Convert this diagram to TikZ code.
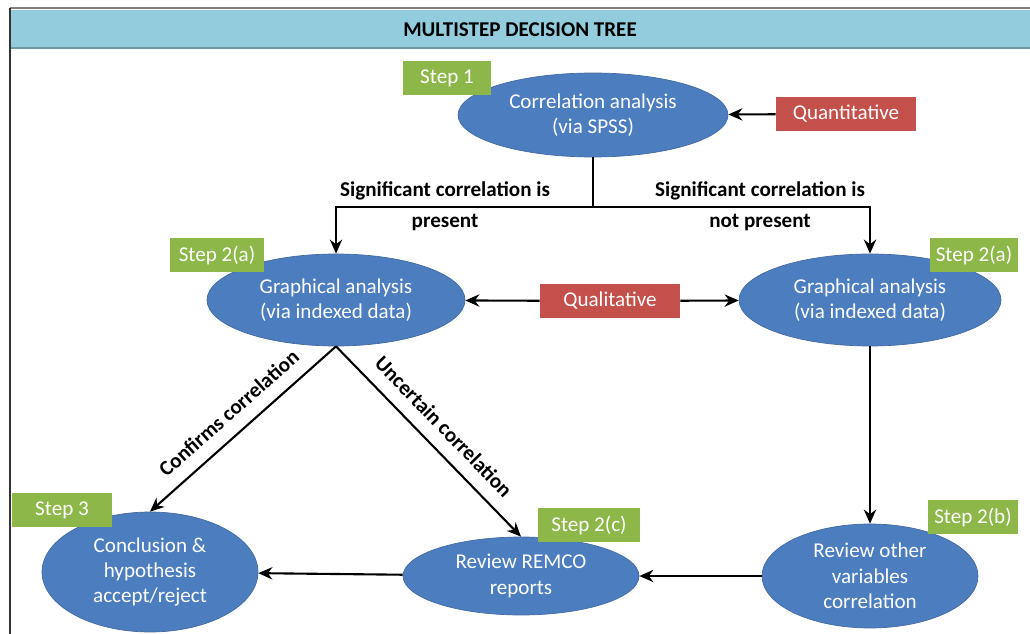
\documentclass[tikz,border=0pt]{standalone}
\usepackage{fontspec}
\setmainfont{Carlito}
\usetikzlibrary{shapes.geometric,arrows.meta}
\definecolor{stepgreen}{HTML}{8DB849}
\definecolor{ovalblue}{HTML}{4C7EBF}
\definecolor{boxred}{HTML}{C4504C}
\definecolor{headblue}{HTML}{93CDDD}
\begin{document}
\begin{tikzpicture}[x=0.02cm,y=-0.02cm,
  oval/.style={ellipse,fill=ovalblue,draw=ovalblue!85!black,line width=.4pt,text=white,align=center,inner sep=0pt,font=\fontsize{12}{14.5}\selectfont},
  stepbox/.style={rectangle,fill=stepgreen,text=white,minimum width=#1,minimum height=.68cm,inner sep=0pt,font=\fontsize{12}{14}\selectfont},
  redbox/.style={rectangle,fill=boxred,text=white,minimum width=2.8cm,minimum height=.68cm,inner sep=0pt,font=\fontsize{12}{14}\selectfont},
  lbl/.style={align=center,font=\bfseries\fontsize{12}{17.6}\selectfont},
  arr/.style={-{Stealth[length=8pt,width=7pt]},line width=1.2pt},
  ln/.style={line width=1.2pt}]
\useasboundingbox (0,0) rectangle (1030,634);
% frame and title bar
\fill[headblue] (10,10) rectangle (1030,48);
\draw[headblue!75!black,line width=.8pt] (10,48) -- (1030,48);
\draw[gray,line width=.8pt] (10,8) -- (1030,8);
\draw[black!80,line width=1.2pt] (10,8) -- (10,634);
\node[font=\bfseries\fontsize{12}{14}\selectfont] (title) at (520,30) {MULTISTEP DECISION TREE};
% ovals
\node[oval,minimum width=5.4cm,minimum height=1.68cm] (corr) at (593,115) {Correlation analysis\\(via SPSS)};
\node[oval,minimum width=5.16cm,minimum height=1.84cm] (gaL) at (336,300) {Graphical analysis\\(via indexed data)};
\node[oval,minimum width=5.24cm,minimum height=1.84cm] (gaR) at (870,300) {Graphical analysis\\(via indexed data)};
\node[oval,minimum width=4.32cm,minimum height=2.08cm] (other) at (870,576) {Review other\\variables\\correlation};
\node[oval,minimum width=4.72cm,minimum height=1.56cm] (remco) at (521,576) {Review REMCO\\reports};
\node[oval,minimum width=4.32cm,minimum height=2.4cm] (concl) at (150,572) {Conclusion \&\\hypothesis\\accept/reject};
% steps
\node[stepbox=1.78cm] (s1) at (447,78) {Step 1};
\node[stepbox=1.88cm] (s2aL) at (217,255) {Step 2(a)};
\node[stepbox=1.76cm] (s2aR) at (974,255) {Step 2(a)};
\node[stepbox=1.8cm] (s2b) at (973,517) {Step 2(b)};
\node[stepbox=2.04cm] (s2c) at (589,525) {Step 2(c)};
\node[stepbox=2cm] (s3) at (62,510) {Step 3};
\node[redbox] (quant) at (846,114) {Quantitative};
\node[redbox] (qual) at (610,301) {Qualitative};
% connectors
\coordinate (split) at (593,207);
\draw[ln] (corr.south) -- (split);
\draw[arr] (split) -| (gaL.north);
\draw[arr] (split) -| (gaR.north);
\node[lbl] (sigyes) at (445,206) {Significant correlation is\\present};
\node[lbl] (signo) at (760,206) {Significant correlation is\\not present};
\draw[arr] (quant) -- (corr);
\draw[arr] (qual) -- (gaL);
\draw[arr] (qual) -- (gaR);
\draw[arr] (gaL.south) -- node[lbl,sloped,above=4pt] {Confirms correlation} (concl.north);
\draw[arr] (gaL.south) -- node[lbl,sloped,above=4pt] {Uncertain correlation} (remco.north);
\draw[arr] (gaR) -- (other);
\draw[arr] (other) -- (remco);
\draw[arr] (remco) -- (concl);
\end{tikzpicture}
\end{document}
